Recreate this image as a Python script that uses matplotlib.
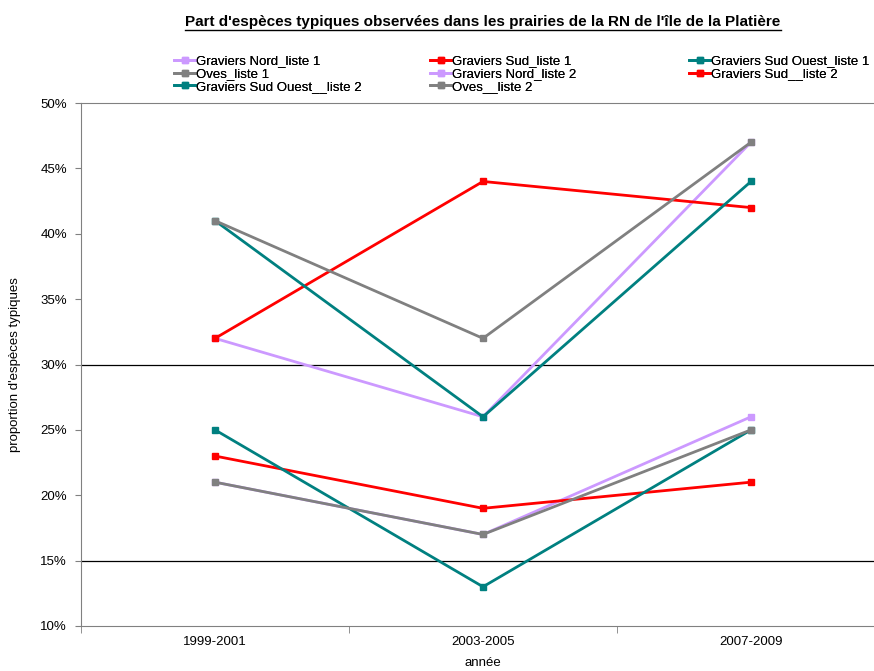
import numpy as np
import matplotlib.pyplot as plt
from matplotlib.lines import Line2D
from matplotlib.ticker import PercentFormatter

plt.rcParams['font.family'] = ['Liberation Sans', 'DejaVu Sans']

periods = ['1999-2001', '2003-2005', '2007-2009']

names = ['Graviers Nord_liste 1', 'Graviers Sud_liste 1', 'Graviers Sud Ouest_liste 1',
         'Oves_liste 1', 'Graviers Nord_liste 2', 'Graviers Sud__liste 2',
         'Graviers Sud Ouest__liste 2', 'Oves__liste 2']

gn1 = [0.32, 0.26, 0.47]
gs1 = [0.32, 0.44, 0.42]
gso1 = [0.41, 0.26, 0.44]
oves1 = [0.41, 0.32, 0.47]
gn2 = [0.21, 0.17, 0.26]
gs2 = [0.23, 0.19, 0.21]
gso2 = [0.25, 0.13, 0.25]
oves2 = [0.21, 0.17, 0.25]

series = [gn1, gs1, gso1, oves1, gn2, gs2, gso2, oves2]
colors = ['#CC99FF', '#FF0000', '#008080', '#808080',
          '#CC99FF', '#FF0000', '#008080', '#808080']

fig = plt.figure(figsize=(8.74, 6.71), dpi=100)
ax = fig.add_axes([81/874, 45/671, 804/874, 523/671])

x = np.arange(len(periods))
handles = []
for vals, c, n in zip(series, colors, names):
    h, = ax.plot(x, vals, color=c, lw=2, marker='s', ms=4.5, label=n)
    handles.append(h)

for yv in [0.30, 0.15]:
    ax.axhline(yv, color='black', lw=0.9, zorder=0)

ax.set_xlim(-0.5, 2.5)
ax.set_ylim(0.10, 0.50)
ax.set_yticks(np.arange(0.10, 0.501, 0.05))
ax.yaxis.set_major_formatter(PercentFormatter(1.0, decimals=0))
ax.set_xticks(x)
ax.set_xticklabels(periods)
ax.set_xticks([-0.5, 0.5, 1.5, 2.5], minor=True)
ax.tick_params(axis='x', which='major', length=0, pad=7, labelsize=9.5)
ax.tick_params(axis='x', which='minor', length=5, color='#808080')
ax.tick_params(axis='y', length=4, color='#808080', labelsize=9.5, pad=6)

for s in ['left', 'bottom', 'top']:
    ax.spines[s].set_color('#808080')
ax.spines['right'].set_visible(False)

ax.set_xlabel('année', fontsize=9.5, labelpad=7)
ax.set_ylabel("proportion d'espèces typiques", fontsize=9.5, labelpad=14)

# legend: three columns placed side by side, read row-wise
columns = [[0, 3, 6], [1, 4, 7], [2, 5]]
col_x = [174, 430, 689]
for idx, cx in zip(columns, col_x):
    leg = fig.legend([handles[i] for i in idx], [names[i] for i in idx],
                     loc='upper left', bbox_to_anchor=(cx/874, 1 - 55/671),
                     frameon=False, fontsize=9.5, handlelength=1.6,
                     handletextpad=0.1, labelspacing=0.05, borderpad=0,
                     borderaxespad=0)
    fig.add_artist(leg)

title = fig.text(483/874, 1 - 22/671, "Part d'espèces typiques observées dans les prairies de la RN de l'île de la Platière",
                 ha='center', va='center', fontsize=11, fontweight='bold')
fig.canvas.draw()
bb = title.get_window_extent().transformed(fig.transFigure.inverted())
fig.add_artist(Line2D([bb.x0, bb.x1], [bb.y0 - 0.002, bb.y0 - 0.002], color='black', lw=1))

fig.savefig('out.png', dpi=100)
